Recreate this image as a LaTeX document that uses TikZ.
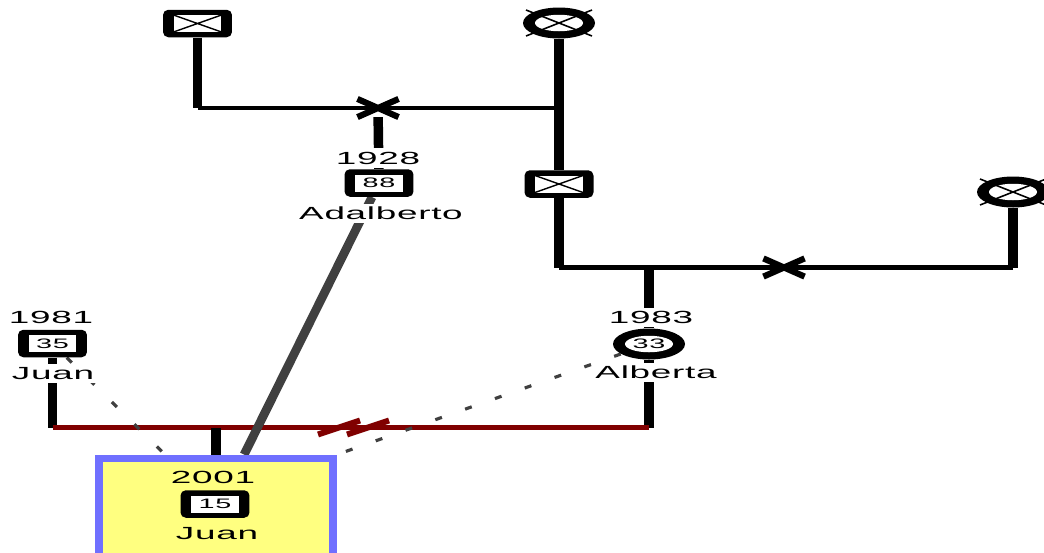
\documentclass[tikz,border=0pt]{standalone}
\usepackage{fontspec}
\newfontfamily\genofont[FakeStretch=2.1,LetterSpace=4]{Liberation Sans}
\usetikzlibrary{shapes.geometric,shapes.misc,backgrounds}
\definecolor{famred}{HTML}{800000}
\definecolor{bioline}{HTML}{404040}
\definecolor{childfill}{HTML}{FFFF80}
\definecolor{childedge}{HTML}{7070FF}

\begin{document}
\begin{tikzpicture}[x=0.02cm, y=-0.02cm,
    male/.style={fill=black, rounded corners=3pt, minimum width=1.38cm, minimum height=0.55cm, inner sep=0pt},
    female/.style={ellipse, fill=black, minimum width=1.44cm, minimum height=0.62cm, inner sep=0pt},
    agebox/.style={fill=white, minimum width=0.96cm, minimum height=0.34cm, inner sep=0pt, font=\genofont\fontsize{7.8}{9}\selectfont},
    ageoval/.style={agebox, ellipse, minimum width=0.96cm, minimum height=0.33cm},
    deadbox/.style={agebox, path picture={\draw[line width=0.8pt] (path picture bounding box.north west) -- (path picture bounding box.south east) (path picture bounding box.south west) -- (path picture bounding box.north east);}},
    lbl/.style={font=\genofont\fontsize{10}{12}\selectfont, inner sep=2pt},
    cover/.style={lbl, fill=white},
    split/.style={cross out, draw, line width=3.5pt, minimum width=0.7cm, minimum height=0.24cm, inner sep=0pt},
    vline/.style={line width=5.4pt},
    hline/.style={line width=2.6pt},
    marline/.style={famred, line width=2.6pt},
    slash/.style={famred, line width=3.4pt},
    bioedge/.style={bioline, line width=5pt},
    fosterline/.style={bioline, line width=1.8pt, dash pattern=on 4pt off 14pt},
    childbox/.style={fill=childfill, draw=childedge, line width=4.5pt, minimum width=4.68cm, minimum height=2.22cm}
  ]
    \useasboundingbox (0,0) rectangle (1044,552);

    % Grandparents
    \node[male] (gf) at (197.5,23.5) {};
    \node[deadbox] at (gf) {};
    \node[female] (gm) at (559,23) {};
    \node[ageoval] at (gm) {};
    \node[split] (m1) at (378,108) {};

    % Adalberto
    \node[male] (adal) at (379,183) {};
    \node[agebox] at (adal) {88};
    \node[cover] (adal-y) at (378,158) {1928};
    \node[cover] (adal-n) at (381,213.5) {Adalberto};

    % Parents of Alberta
    \node[male] (uncle) at (559,184) {};
    \node[deadbox] at (uncle) {};
    \node[female] (rgm) at (1013,192) {};
    \node[ageoval] at (rgm) {};
    \node[split] (m2) at (784,267.5) {};
    \foreach \f in {gm,rgm}
    \draw[line width=0.9pt] (\f) ++(-33,-13) -- ++(66,26) (\f) ++(-33,13) -- ++(66,-26);

    % Juan and Alberta
    \node[male] (juan81) at (52.5,343.5) {};
    \node[agebox] at (juan81) {35};
    \node[cover] (juan81-y) at (51,317.5) {1981};
    \node[cover] (juan81-n) at (53,373.5) {Juan};
    \node[female] (alberta) at (649,344) {};
    \node[ageoval] at (alberta) {33};
    \node[cover] (alberta-y) at (651,317.5) {1983};
    \node[cover] (alberta-n) at (656,372.5) {Alberta};
    \coordinate (mar) at (353,427.5);
    \draw[slash] (mar) ++(-35,7) -- ++(42,-14) (mar) ++(-6,7) -- ++(42,-14);

    % Child
    \node[childbox] (child) at (216,514) {};
    \node[lbl] (juan01-y) at (213,477.5) {2001};
    \node[male] (juan01) at (215,504) {};
    \node[agebox] at (juan01) {15};
    \node[lbl] (juan01-n) at (217,533.5) {Juan};

    \begin{scope}[on background layer]
    \draw[vline] (gf) -- (gf |- m1);
    \draw[vline] (gm) -- (uncle);
    \draw[hline] (gf |- m1) -- (gm |- m1);
    \draw[vline] (m1) -- (adal);
    \draw[vline] (uncle) -- (uncle |- m2);
    \draw[vline] (rgm) -- (rgm |- m2);
    \draw[hline] (uncle |- m2) -- (rgm |- m2);
    \draw[vline] (alberta |- m2) -- (alberta);
    \draw[vline] (juan81) -- (juan81 |- mar);
    \draw[vline] (alberta) -- (alberta |- mar);
    \draw[marline] (juan81 |- mar) -- (alberta |- mar);
    \draw[vline] (child.north) -- (child.north |- mar);
    \draw[fosterline] (juan81) -- ([xshift=-29pt]child.north);
    \draw[fosterline] (alberta) -- (child.north east);
    \draw[bioedge] (adal) -- ([xshift=16pt]child.north);
    \end{scope}

\end{tikzpicture}
\end{document}
